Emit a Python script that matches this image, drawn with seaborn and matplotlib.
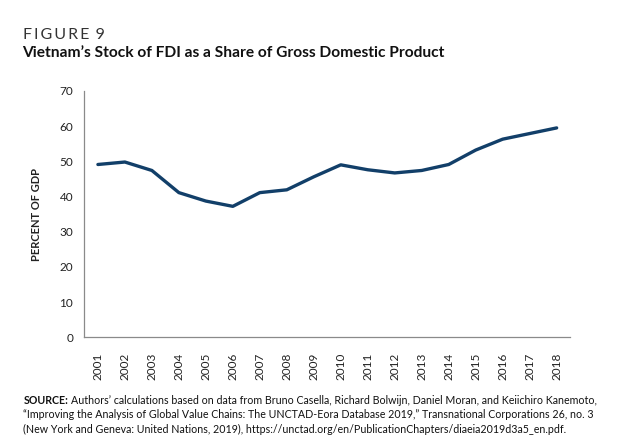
import matplotlib
matplotlib.use("Agg")
import matplotlib.pyplot as plt
import seaborn as sns
import pandas as pd
import numpy as np

years = list(range(2001, 2019))
fdi_share = [49.1, 49.8, 47.4, 41.1, 38.7, 37.2, 41.1, 41.9, 45.6, 49.0,
             47.6, 46.7, 47.4, 49.1, 53.2, 56.3, 57.9, 59.5]
yticks = [0, 10, 20, 30, 40, 50, 60, 70]

sns.set_theme(style="white")
plt.rcParams['font.family'] = ['Lato', 'DejaVu Sans']

df = pd.DataFrame({"year": years, "share": fdi_share})

fig = plt.figure(figsize=(6.3, 4.46), dpi=100)
ax = fig.add_axes([0.134, 0.244, 0.771, 0.552])

sns.lineplot(data=df, x="year", y="share", ax=ax, color="#123f69", linewidth=2.4)

ax.set_xlim(years[0] - 0.5, years[-1] + 0.5)
ax.set_ylim(0, 70)
ax.set_yticks(yticks)
ax.set_yticklabels([str(v) for v in yticks])
ax.set_xticks([y + 0.5 for y in [years[0] - 1] + years])
ax.set_xticklabels([])
ax.set_xticks(years, minor=True)
ax.set_xticklabels([str(y) for y in years], minor=True, rotation=90)
ax.tick_params(axis="x", which="major", direction="in", length=6, width=0.8, color="#8a8a8a")
ax.tick_params(axis="x", which="minor", length=0, pad=11, labelsize=8.5, labelcolor="#222222")
ax.tick_params(axis="y", direction="in", length=5, width=0.8, color="#8a8a8a",
               pad=8, labelsize=8.5, labelcolor="#222222")

for s in ["top", "right"]:
    ax.spines[s].set_visible(False)
for s in ["left", "bottom"]:
    ax.spines[s].set_color("#8a8a8a")
    ax.spines[s].set_linewidth(0.9)

ax.set_xlabel("")
ax.set_ylabel("PERCENT OF GDP", fontsize=8, fontweight="bold", color="#222222", labelpad=13)

hs = "\u2009"
fig.text(0.037, 0.9126, hs.join("FIGURE") + hs + " " + "9", fontsize=11.5, fontweight="normal", color="#333333")
fig.text(0.035, 0.872, "Vietnam\u2019s Stock of FDI as a Share of Gross Domestic Product",
         fontsize=11.2, fontweight="bold", color="#111111")

fs = 7.7
fig.canvas.draw()
r = fig.canvas.get_renderer()
t = fig.text(0.037, 0.095, "SOURCE:", fontsize=fs, fontweight="bold", color="#111111")
bb = t.get_window_extent(renderer=r)
x2 = (bb.x1 + 3) / fig.bbox.width
fig.text(x2, 0.095, "Authors\u2019 calculations based on data from Bruno Casella, Richard Bolwijn, Daniel Moran, and Keiichiro Kanemoto,",
         fontsize=fs, color="#111111")
fig.text(0.037, 0.062, "\u201cImproving the Analysis of Global Value Chains: The UNCTAD-Eora Database 2019,\u201d Transnational Corporations 26, no. 3",
         fontsize=fs, color="#111111")
fig.text(0.037, 0.029, "(New York and Geneva: United Nations, 2019), https://unctad.org/en/PublicationChapters/diaeia2019d3a5_en.pdf.",
         fontsize=fs, color="#111111")

fig.savefig("out.png", dpi=100)
